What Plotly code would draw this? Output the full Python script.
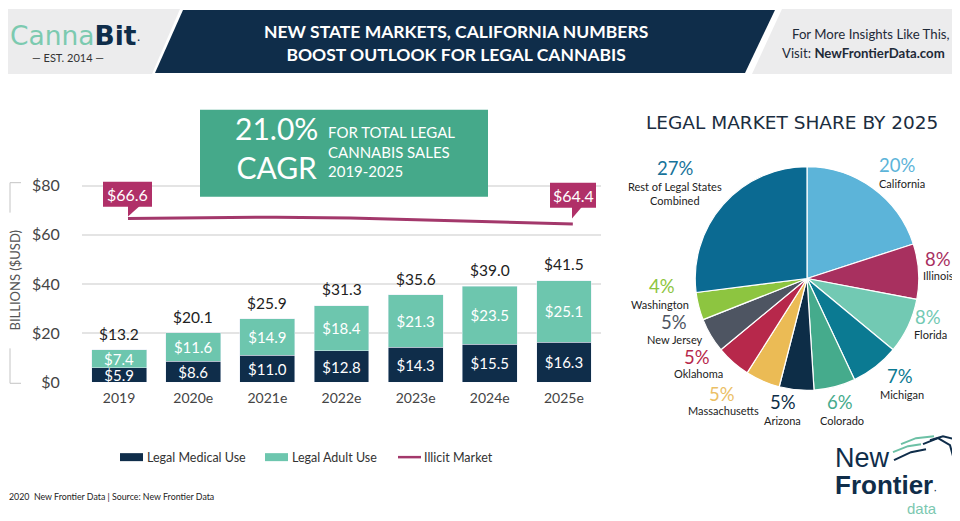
import plotly.graph_objects as go

# ---------------- data ----------------
years = ["2019", "2020e", "2021e", "2022e", "2023e", "2024e", "2025e"]
medical = [5.9, 8.6, 11.0, 12.8, 14.3, 15.5, 16.3]
adult = [7.4, 11.6, 14.9, 18.4, 21.3, 23.5, 25.1]
totals = [13.2, 20.1, 25.9, 31.3, 35.6, 39.0, 41.5]
illicit = [66.6, 66.9, 67.2, 66.8, 66.0, 65.2, 64.4]
y_ticks = [0, 20, 40, 60, 80]
y_ticktext = ["$0", "$20", "$40", "$60", "$80"]

states = ["California", "Illinois", "Florida", "Michigan", "Colorado", "Arizona",
          "Massachusetts", "Oklahoma", "New Jersey", "Washington",
          "Rest of Legal States Combined"]
shares = [20, 8, 8, 7, 6, 5, 5, 5, 5, 4, 27]
state_labels = ["California", "Illinois", "Florida", "Michigan", "Colorado", "Arizona",
                "Massachusetts", "Oklahoma", "New Jersey", "Washington",
                "Rest of Legal States<br>Combined"]
pie_colors = ["#5cb4d9", "#a8305f", "#72c9b3", "#0b7a92", "#45ab8c", "#0d2d47",
              "#ebbb55", "#b7284b", "#4e5562", "#8dc540", "#0b6a92"]
pct_colors = ["#5cb4d9", "#a8305f", "#72c9b3", "#0b7a92", "#45ab8c", "#0d2d47",
              "#ebc066", "#b7284b", "#4e5562", "#8dc540", "#17739a"]

W, H = 960, 521
NAVY = "#0f2d4a"
TEAL = "#6dc6ae"
MAG = "#a3386b"
FONT = "Lato"


# layout helpers: target-picture pixel -> paper fraction
def X(x):
    return (x - 8) / W


def Y(y):
    return 1 - ((y - 12) / 0.975) / H


def path(pts, close=True):
    s = "M " + " L ".join(f"{X(a):.5f},{Y(b):.5f}" for a, b in pts)
    return s + (" Z" if close else "")


fig = go.Figure()

fig.add_trace(go.Bar(x=years, y=medical, marker_color=NAVY, name="Legal Medical Use",
                     text=[f"${v:.1f}" for v in medical], textposition="inside",
                     insidetextanchor="middle", constraintext="none",
                     textfont=dict(color="white", size=15, family=FONT)))
fig.add_trace(go.Bar(x=years, y=adult, marker_color=TEAL, name="Legal Adult Use",
                     text=[f"${v:.1f}" for v in adult], textposition="inside",
                     insidetextanchor="middle", constraintext="none",
                     textfont=dict(color="white", size=15, family=FONT)))
fig.add_trace(go.Scatter(x=years, y=illicit, mode="lines", name="Illicit Market",
                         xaxis="x2", line=dict(color=MAG, width=3)))

fig.add_trace(go.Pie(values=shares, labels=states, sort=False, direction="clockwise",
                     rotation=0, textinfo="none",
                     marker=dict(colors=pie_colors, line=dict(color="white", width=1.2)),
                     domain=dict(x=[X(694), X(920)], y=[Y(390), Y(166)]),
                     showlegend=False))

scale = 197 / 80.0
ytop = 82
xdom = [X(82), X(601)]
fig.update_layout(
    width=W, height=H, margin=dict(l=0, r=0, t=0, b=0),
    paper_bgcolor="white", plot_bgcolor="rgba(0,0,0,0)",
    barmode="stack", bargap=0.26, showlegend=False,
    font=dict(family=FONT, color="#333"),
    xaxis=dict(domain=xdom, type="category", range=[-0.5, 6.5], showgrid=False,
               showline=False, zeroline=False, ticks="outside", ticklen=3,
               tickcolor="rgba(0,0,0,0)",
               tickfont=dict(size=14, color="#444", family=FONT)),
    xaxis2=dict(domain=xdom, type="category", overlaying="x", anchor="y",
                range=[-0.62, 6.38], visible=False),
    yaxis=dict(domain=[Y(382), Y(382 - ytop * scale)], range=[0, ytop],
               tickmode="array", tickvals=y_ticks, ticktext=y_ticktext, showgrid=True,
               gridcolor="#e4e4e4", gridwidth=1.5, zeroline=False, showline=False,
               ticks="outside", ticklen=18, tickcolor="rgba(0,0,0,0)",
               tickfont=dict(size=16, color="#444", family=FONT)),
)

shapes = []
# header backgrounds
shapes.append(dict(type="path", xref="paper", yref="paper", layer="below",
                   path=path([(0, 8), (180, 8), (152, 73), (0, 73)]),
                   fillcolor="#ececed", line=dict(width=0)))
shapes.append(dict(type="path", xref="paper", yref="paper", layer="below",
                   path=path([(183, 9), (775, 9), (745, 72), (155, 72)]),
                   fillcolor=NAVY, line=dict(width=0)))
shapes.append(dict(type="path", xref="paper", yref="paper", layer="below",
                   path=path([(782, 8), (970, 8), (970, 73), (752, 73)]),
                   fillcolor="#ececed", line=dict(width=0)))
# CAGR box
shapes.append(dict(type="rect", xref="paper", yref="paper", layer="above",
                   x0=X(200), x1=X(488), y0=Y(196), y1=Y(109),
                   fillcolor="#45a98a", line=dict(width=0)))
# callout boxes + pointers
CALL = "#b03068"
shapes.append(dict(type="rect", xref="paper", yref="paper", layer="above",
                   x0=X(103), x1=X(152), y0=Y(206), y1=Y(181),
                   fillcolor=CALL, line=dict(width=0)))
shapes.append(dict(type="path", xref="paper", yref="paper", layer="above",
                   path=path([(128, 205), (140, 205), (128, 216)]),
                   fillcolor=CALL, line=dict(width=0)))
shapes.append(dict(type="rect", xref="paper", yref="paper", layer="above",
                   x0=X(550), x1=X(596), y0=Y(207), y1=Y(182),
                   fillcolor=CALL, line=dict(width=0)))
shapes.append(dict(type="path", xref="paper", yref="paper", layer="above",
                   path=path([(572, 206), (582, 206), (572, 218)]),
                   fillcolor=CALL, line=dict(width=0)))
# y-axis bracket
for (x0, y0, x1, y1) in [(10, 182, 10, 212), (10, 348, 10, 383),
                         (10, 182, 21, 182), (10, 383, 21, 383)]:
    shapes.append(dict(type="line", xref="paper", yref="paper", layer="below",
                       x0=X(x0), y0=Y(y0), x1=X(x1), y1=Y(y1),
                       line=dict(color="#c4c4c4", width=1)))
# legend keys
shapes.append(dict(type="rect", xref="paper", yref="paper", x0=X(120), x1=X(143),
                   y0=Y(461), y1=Y(453), fillcolor=NAVY, line=dict(width=0)))
shapes.append(dict(type="rect", xref="paper", yref="paper", x0=X(265), x1=X(288),
                   y0=Y(461), y1=Y(453), fillcolor=TEAL, line=dict(width=0)))
shapes.append(dict(type="line", xref="paper", yref="paper", x0=X(398), x1=X(421),
                   y0=Y(457), y1=Y(457), line=dict(color=MAG, width=2.5)))
# New Frontier horse (stylised strokes)
for (pts, col) in [([(893, 452), (908, 446), (921, 444)], "#6cc0a5"),
                   ([(894, 460), (911, 452), (926, 449)], NAVY),
                   ([(901, 444), (916, 438), (934, 436)], "#6cc0a5"),
                   ([(923, 444), (938, 438), (950, 445), (953, 456)], NAVY),
                   ([(930, 440), (943, 436), (958, 440)], NAVY)]:
    shapes.append(dict(type="path", xref="paper", yref="paper", path=path(pts, False),
                       line=dict(color=col, width=2)))
fig.update_layout(shapes=shapes)

ann = []


def txt(x, y, text, size, color, family=FONT, xanchor="center", yanchor="middle",
        align="center", **kw):
    ann.append(dict(x=X(x), y=Y(y), xref="paper", yref="paper", text=text,
                    showarrow=False, xanchor=xanchor, yanchor=yanchor, align=align,
                    font=dict(size=size, color=color, family=family), **kw))


# header
txt(8, 35, "<span style='color:#7ccab0'>Canna</span><b style='color:#0f2d4a'>Bit</b>"
    "<span style='color:#0f2d4a;font-size:13px'>·</span>", 26.5, NAVY,
    family="DejaVu Sans", xanchor="left")
txt(68, 57, "— EST. 2014 —", 11, "#333")
txt(456, 42.5, "<b>NEW STATE MARKETS, CALIFORNIA NUMBERS<br>BOOST OUTLOOK FOR LEGAL CANNABIS</b>",
    17.5, "white")
txt(790, 33, "For More Insights Like This,", 13.2, "#1e2a38", xanchor="left")
txt(780, 52, "Visit: <b>NewFrontierData.com</b>", 13.2, "#1e2a38", xanchor="left")

# y-axis title
ann.append(dict(x=X(15), y=Y(280), xref="paper", yref="paper", text="BILLIONS ($USD)",
                showarrow=False, textangle=-90, xanchor="center", yanchor="middle",
                font=dict(size=13, color="#555", family=FONT)))

# CAGR text
txt(276, 147, "21.0%<br>CAGR", 30, "white")
txt(326, 151, "FOR TOTAL LEGAL<br>CANNABIS SALES<br>2019-2025", 15, "white",
    xanchor="left", align="left")

# callout labels
txt(127.5, 194, f"${illicit[0]:.1f}", 16, "white")
txt(573, 195, f"${illicit[-1]:.1f}", 16, "white")

# totals above bars (category index on the bar axis)
for i, t in enumerate(totals):
    ann.append(dict(x=i, y=t, xref="x", yref="y", text=f"${t:.1f}", showarrow=False,
                    yanchor="bottom", yshift=5, font=dict(size=15.5, color="#222", family=FONT)))

# legend texts
txt(145, 457, "Legal Medical Use", 12.5, "#333", xanchor="left")
txt(290, 457, "Legal Adult Use", 12.5, "#333", xanchor="left")
txt(422, 457, "Illicit Market", 12.5, "#333", xanchor="left")

# footer
txt(7, 496, "2020  New Frontier Data | Source: New Frontier Data", 8.8, "#222",
    xanchor="left")

# pie title
txt(792, 122, "LEGAL MARKET SHARE BY 2025", 18.5, "#1b2d40", family="DejaVu Sans")

# pie labels: percent position and name position (pixels)
pct_pos = [(897, 164), (938, 258), (928, 317), (900, 376), (840, 402), (783, 402),
           (722, 394), (697, 357), (674, 322), (662, 286), (675, 167)]
name_pos = [(902, 183), (938, 275), (930, 334), (902, 394), (842, 420), (782, 420),
            (723, 410), (698, 373), (675, 339), (660, 304), (675, 193)]
for s, lab, c, pp, npos in zip(shares, state_labels, pct_colors, pct_pos, name_pos):
    txt(pp[0], pp[1], f"{s}%", 18.5, c)
    txt(npos[0], npos[1], lab, 11, "#222")

# New Frontier logo
txt(833, 458, "New", 27, NAVY, family="Liberation Sans", xanchor="left")
txt(833, 485, "<b>Frontier</b><span style='font-size:12px'>·</span>", 26, NAVY,
    family="Liberation Sans", xanchor="left")
txt(905, 508, "data", 15, "#7cc8b0", family="Liberation Sans", xanchor="left")

fig.update_layout(annotations=ann)

fig.write_html("out.html")
